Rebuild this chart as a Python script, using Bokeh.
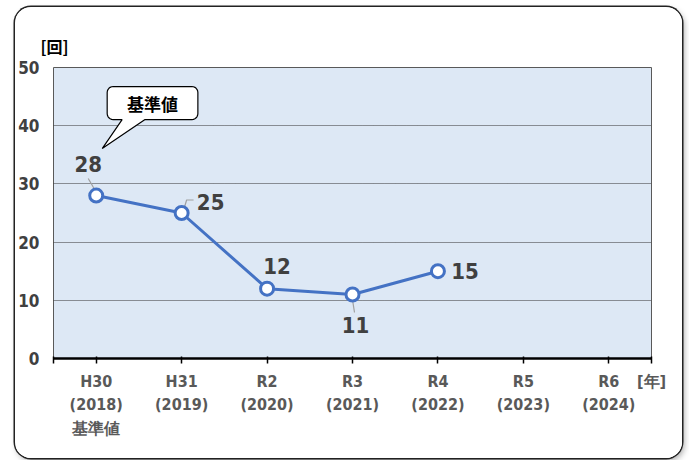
import math
from bokeh.plotting import figure
from bokeh.models import Range1d, FixedTicker
from bokeh.core.properties import value
from bokeh.embed import file_html
from bokeh.resources import INLINE

# ---- data ----
categories = ["H30\n(2018)\n基準値", "H31\n(2019)", "R2\n(2020)", "R3\n(2021)",
              "R4\n(2022)", "R5\n(2023)", "R6\n(2024)"]
counts = [28, 25, 12, 11, 15]          # observed values (R5, R6 not yet)
y_ticks = [0, 10, 20, 30, 40, 50]
y_unit_label = "[回]"
x_unit_label = "[年]"
callout_text = "基準値"

# ---- layout constants ----
FW, FH = 600, 291          # frame size in px
X0, X1 = 0, len(categories)
Y0, Y1 = 0, 50
PX_X = FW / (X1 - X0)
PX_Y = FH / (Y1 - Y0)

NUM = "DejaVu Sans Condensed, Roboto Condensed, Roboto, sans-serif"
JP = "Noto Sans CJK JP, sans-serif"

p = figure(width=667, height=451, x_range=Range1d(X0, X1), y_range=Range1d(Y0, Y1),
           output_backend="svg", toolbar_location=None,
           min_border_left=36, min_border_right=31, min_border_top=60, min_border_bottom=100)
p.styles = {"margin": "7px 0 0 15px", "border-radius": "16px", "overflow": "hidden",
            "background": "white",
            "box-shadow": "0 0 0 1.5px #222, 2px 3px 6px rgba(0,0,0,0.35)"}
p.border_fill_color = "white"
p.background_fill_color = "#DDE8F5"
p.outline_line_color = "#595959"
p.outline_line_width = 1

# unit label of the value axis, as the plot title (top left)
p.title.text = y_unit_label
p.title.align = "left"
p.title.offset = -13
p.title.standoff = 20
p.title.text_font = JP
p.title.text_font_style = "bold"
p.title.text_font_size = "16px"
p.title.text_color = "black"

# grid
p.xgrid.visible = False
p.ygrid.ticker = FixedTicker(ticks=[t for t in y_ticks if 0 < t < Y1])
p.ygrid.grid_line_color = "#303030"
p.ygrid.grid_line_dash = "1 1"
p.ygrid.grid_line_width = 1

# y axis
p.yaxis.ticker = FixedTicker(ticks=y_ticks)
p.yaxis.axis_line_color = None
p.yaxis.major_tick_line_color = None
p.yaxis.major_tick_out = 0
p.yaxis.major_tick_in = 0
p.yaxis.minor_tick_line_color = None
p.yaxis.minor_tick_out = 0
p.yaxis.major_label_standoff = 14
p.yaxis.major_label_text_font = NUM
p.yaxis.major_label_text_font_style = "bold"
p.yaxis.major_label_text_font_size = "17px"
p.yaxis.major_label_text_color = "#404040"

# x axis
xs = [i + 0.5 for i in range(len(categories))]
p.xaxis.ticker = FixedTicker(ticks=[X0] + xs + [X1])
overrides = {x: c for x, c in zip(xs, categories)}
overrides[X0] = ""
overrides[X1] = x_unit_label
p.xaxis.major_label_overrides = overrides
p.xaxis.axis_line_color = "black"
p.xaxis.axis_line_width = 2.5
p.xaxis.major_tick_line_color = "black"
p.xaxis.major_tick_line_width = 1.5
p.xaxis.major_tick_out = 5
p.xaxis.major_tick_in = 2
p.xaxis.minor_tick_line_color = None
p.xaxis.major_label_standoff = 8
p.xaxis.major_label_text_font = NUM
p.xaxis.major_label_text_font_style = "bold"
p.xaxis.major_label_text_font_size = "16px"
p.xaxis.major_label_text_line_height = 1.25
p.xaxis.major_label_text_color = "#595959"

# ---- series ----
px = xs[:len(counts)]
BLUE = "#4472C4"

# leader lines for some data labels (pixel offsets from the point)
leaders = {0: [(-1, 5), (-8, 17)], 1: [(2, 3), (5, 13), (12, 13)], 3: [(0, -5), (2, -18)]}
for i, pts in leaders.items():
    lx = [px[i] + dx / PX_X for dx, dy in pts]
    ly = [counts[i] + dy / PX_Y for dx, dy in pts]
    p.line(lx, ly, line_color="#A0A0A0", line_width=1.2)

p.line(px, counts, line_color=BLUE, line_width=3)
p.scatter(px, counts, size=13, fill_color="white", line_color=BLUE, line_width=3)

# data labels (offsets in px, screen)
lab_dx = [-8, 29, 10, 3, 27]
lab_dy = [-32, -11, -23, 31, 0]
p.text(px, counts, text=[str(v) for v in counts], x_offset=lab_dx, y_offset=lab_dy,
       text_align="center", text_baseline="middle",
       text_font=value(NUM), text_font_style="bold", text_font_size="22px",
       text_color="#404040")

# ---- callout for baseline ----
ax, ay = px[0], counts[0]
bx0, bx1, byt, byb = 11, 102, 109, 76      # px relative to anchor (up positive)
r = 6
pts = []
def arc(cx, cy, a0, a1):
    for k in range(7):
        a = math.radians(a0 + (a1 - a0) * k / 6)
        pts.append((cx + r * math.cos(a), cy + r * math.sin(a)))
arc(bx0 + r, byt - r, 180, 90)
arc(bx1 - r, byt - r, 90, 0)
arc(bx1 - r, byb + r, 0, -90)
pts.append((49, byb))
pts.append((6, 47))
pts.append((26, byb))
arc(bx0 + r, byb + r, 270, 180)
cx_ = [ax + dx / PX_X for dx, dy in pts]
cy_ = [ay + dy / PX_Y for dx, dy in pts]
p.patch(cx_, cy_, fill_color="white", line_color="black", line_width=1.2)
p.text([ax + (bx0 + bx1) / 2 / PX_X], [ay + (byt + byb) / 2 / PX_Y], text=[callout_text],
       text_align="center", text_baseline="middle", text_font=value(JP),
       text_font_style="bold", text_font_size="17px", text_color="black")

open("out.html", "w").write(file_html(p, INLINE))
